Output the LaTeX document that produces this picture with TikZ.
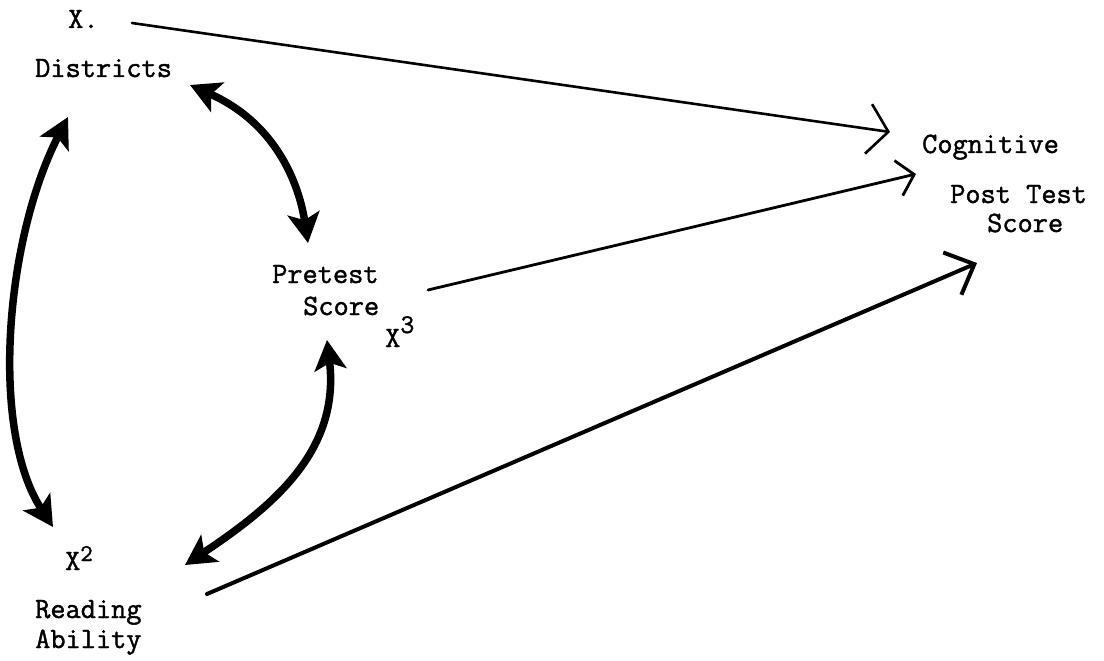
\documentclass[tikz,border=0pt]{standalone}
\usepackage{fontspec}
\newfontfamily\twfont{Latin Modern Mono}[FakeBold=1.4]
\usetikzlibrary{arrows.meta}
\begin{document}
\begin{tikzpicture}[x=1pt,y=-1pt,
  lbl/.style={font=\fontsize{29.5}{34}\selectfont\twfont, inner sep=0pt, anchor=base west},
  dbl/.style={line width=7.5pt, line cap=round,
    {Stealth[length=30pt,width=32pt,inset=7pt]}-{Stealth[length=30pt,width=32pt,inset=7pt]}},
  path1/.style={line width=2.6pt, line cap=round, -{Straight Barb[length=20pt,width=50pt]}},
  path2/.style={line width=2.8pt, line cap=round, -{Straight Barb[length=16pt,width=36pt]}},
  path3/.style={line width=4pt, line cap=round, -{Straight Barb[length=24pt,width=46pt]}}
]
\useasboundingbox[fill=white] (0,0) rectangle (1104,661);

% labels
\node[lbl] (x1) at (68,28) {X.};
\node[lbl] (dist) at (35,77) {Districts};
\node[lbl] (cog) at (922,153) {Cognitive};
\node[lbl] (post) at (950,203) {Post Test};
\node[lbl] (score2) at (987,232) {Score};
\node[lbl] (pre) at (272,283) {Pretest};
\node[lbl] (score1) at (303,315) {Score};
\node[lbl] (x3) at (385,347) {X\raisebox{14pt}{\fontsize{27}{30}\selectfont 3}};
\node[lbl] (x2) at (65,570) {X\raisebox{9pt}{\fontsize{24}{30}\selectfont 2}};
\node[lbl] (read) at (35,618) {Reading};
\node[lbl] (abil) at (35,648) {Ability};

% connector end points
\coordinate (a1s) at (132,23);
\coordinate (a1e) at (890,132);
\coordinate (a2s) at (428,290);
\coordinate (a2e) at (916,174);
\coordinate (a3s) at (207,594);
\coordinate (a3e) at (977,263);
\coordinate (dp1) at (190,85);
\coordinate (dp2) at (308,243);
\coordinate (pr1) at (327,340);
\coordinate (pr2) at (185,565);
\coordinate (dr1) at (68,117);
\coordinate (dr2) at (53,527);

% one-way paths to the outcome
\draw[path1] (a1s) -- (a1e);
\draw[path2] (a2s) -- (a2e);
\draw[path3] (a3s) -- (a3e);

% two-way correlations
\draw[dbl] (dp1) .. controls (280,125) and (300,190) .. (dp2);
\draw[dbl] (pr1) .. controls (340,450) and (275,505) .. (pr2);
\draw[dbl] (dr1) .. controls (5,240) and (-10,430) .. (dr2);
\end{tikzpicture}
\end{document}
